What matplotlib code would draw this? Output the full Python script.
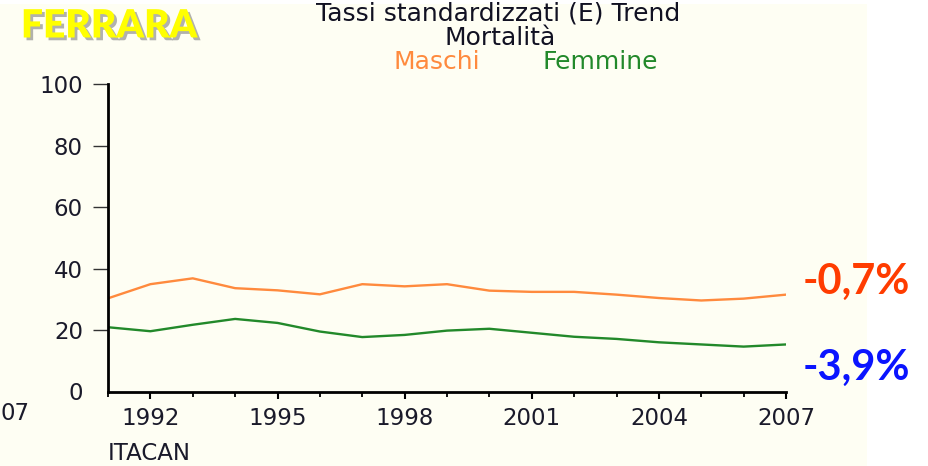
import matplotlib.pyplot as plt
import matplotlib.patheffects as pe
from matplotlib.patches import Rectangle
from matplotlib.ticker import MultipleLocator

# Dati (tassi standardizzati, mortalità)
anni = [1991, 1992, 1993, 1994, 1995, 1996, 1997, 1998, 1999,
        2000, 2001, 2002, 2003, 2004, 2005, 2006, 2007]
maschi = [30.3, 34.9, 36.8, 33.6, 32.9, 31.6, 34.9, 34.2, 34.9,
          32.8, 32.4, 32.4, 31.5, 30.4, 29.6, 30.2, 31.5]
femmine = [20.9, 19.6, 21.7, 23.6, 22.3, 19.5, 17.7, 18.4, 19.8,
           20.4, 19.1, 17.8, 17.1, 16.0, 15.3, 14.6, 15.3]
anni_etichette = [1992, 1995, 1998, 2001, 2004, 2007]
y_etichette = [0, 20, 40, 60, 80, 100]
var_maschi = '-0,7%'
var_femmine = '-3,9%'

W, H = 929, 466
fig = plt.figure(figsize=(W / 100, H / 100), dpi=100)
fig.patch.set_facecolor('white')
plt.rcParams['font.family'] = ['DejaVu Sans']

# sfondo crema
fig.patches.append(Rectangle((0, 0), 867 / W, 1 - 4 / H, transform=fig.transFigure,
                             facecolor='#fefef3', edgecolor='none', zorder=-10))


def px(x, y):
    return x / W, 1 - y / H


ax = fig.add_axes([108 / W, 1 - 391.5 / H, (786 - 108) / W, (391.5 - 84) / H])
ax.patch.set_alpha(0)

ax.plot(anni, maschi, color='#ff8a3d', lw=1.7)
ax.plot(anni, femmine, color='#22892a', lw=1.7)

ax.set_xlim(1991, 2007)
ax.set_ylim(0, 100)
ax.set_xticks(anni_etichette)
ax.xaxis.set_minor_locator(MultipleLocator(1))
ax.set_yticks(y_etichette)

for s in ['top', 'right']:
    ax.spines[s].set_visible(False)
for s in ['left', 'bottom']:
    ax.spines[s].set_linewidth(2.0)
    ax.spines[s].set_color('black')

ax.tick_params(axis='x', which='major', length=5, width=1.5, pad=6,
               labelsize=16.5, labelcolor='#1a1a2a')
ax.tick_params(axis='x', which='minor', length=3.5, width=1.3)
ax.tick_params(axis='y', length=11, width=1.0, pad=7, labelsize=16.5,
               labelcolor='#1a1a2a', color='#333333')
ax.yaxis.get_major_ticks()[0].tick1line.set_visible(False)

# titoli
fig.text(*px(498, 14), 'Tassi standardizzati (E) Trend', ha='center', va='center',
         fontsize=18, color='#111122')
fig.text(*px(500, 38), 'Mortalità', ha='center', va='center',
         fontsize=18, color='#111122')
fig.text(*px(437, 62), 'Maschi', ha='center', va='center',
         fontsize=18, color='#ff8a3d')
fig.text(*px(600, 62), 'Femmine', ha='center', va='center',
         fontsize=18, color='#22892a')

fig.text(*px(21, 26), 'FERRARA', ha='left', va='center', fontsize=28,
         fontweight='heavy', color='#ffff00',
         family=['Lato', 'DejaVu Sans'],
         path_effects=[pe.withSimplePatchShadow(offset=(2, -2), shadow_rgbFace='#666666', alpha=0.5)])

fig.text(*px(108, 454), 'ITACAN', ha='left', va='center', fontsize=16.5, color='#1a1a2a')
# resto di un'etichetta tagliata dal bordo sinistro
fig.text(*px(0, 413), '07', ha='left', va='center', fontsize=16.5, color='#1a1a2a')

fig.text(*px(856, 282), var_maschi, ha='center', va='center', fontsize=30,
         fontweight='bold', color='#ff3c00', family=['Lato', 'DejaVu Sans'])
fig.text(*px(856, 368), var_femmine, ha='center', va='center', fontsize=30,
         fontweight='bold', color='#0a14ff', family=['Lato', 'DejaVu Sans'])

fig.savefig('out.png', dpi=100)
